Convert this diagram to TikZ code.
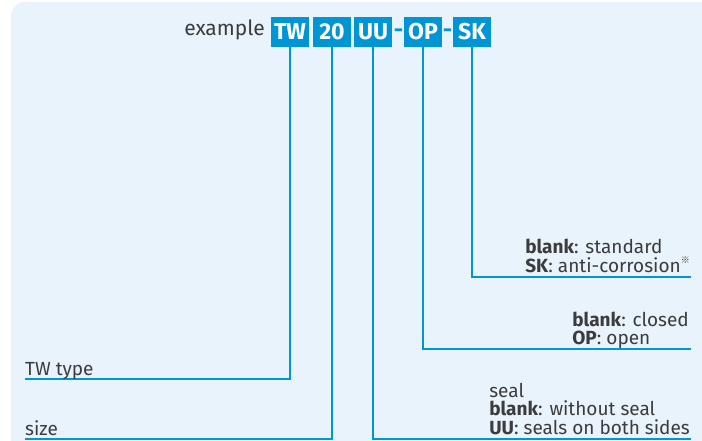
\documentclass[tikz,border=0pt]{standalone}
\usepackage{fontspec}
\setmainfont{Fira Sans}
\newfontfamily\cjk{Noto Sans CJK JP}
\definecolor{tblue}{HTML}{0096D6}
\definecolor{panel}{HTML}{E8F3FB}
\definecolor{ink}{HTML}{3C3C3C}
\tikzstyle{code}=[fill=tblue,text=white,font=\fontsize{23}{23}\selectfont\bfseries,minimum width=38pt,minimum height=30pt,inner sep=0pt]
\tikzstyle{hyph}=[text=tblue,font=\fontsize{23}{23}\selectfont\bfseries,inner sep=0pt]
\tikzstyle{lead}=[draw=tblue,line width=1.5pt]
\tikzstyle{lbl}=[text=ink,font=\fontsize{19}{19}\selectfont,inner sep=0pt]
\begin{document}
\begin{tikzpicture}[x=1pt,y=-1pt]
    \useasboundingbox (0,0) rectangle (702,441);
    \fill[panel,rounded corners=14pt] (11,2) rectangle (720,470);

    \node[code] (tw) at (290,32) {TW};
    \node[code] (sz) at (332,32) {20};
    \node[code] (uu) at (373,32) {UU};
    \node[hyph] (h1) at (398.5,33) {-};
    \node[code] (op) at (423,32) {OP};
    \node[hyph] (h2) at (447.5,33) {-};
    \node[code] (sk) at (472,32) {SK};
    \node[lbl,anchor=base east,font=\fontsize{21}{21}\selectfont] (ex) at (265,36) {example};

    % leads from the code boxes
    \coordinate (twend) at (25,379);
    \coordinate (szend) at (25,439);
    \coordinate (uuend) at (691,439);
    \coordinate (opend) at (691,349);
    \coordinate (skend) at (691,277);
    \draw[lead] (tw.south) |- (twend);
    \draw[lead] (sz.south) |- (szend);
    \draw[lead] (uu.south) |- (uuend);
    \draw[lead] (op.south) |- (opend);
    \draw[lead] (sk.south) |- (skend);

    % labels
    \node[lbl,anchor=base west] (twlbl) at (25,375) {TW type};
    \node[lbl,anchor=base west] (szlbl) at (25,435) {size};

    \node[lbl,anchor=base east] (uulbl) at (690,434) {\textbf{UU}: seals on both sides};
    \node[lbl,anchor=base west] (uublank) at ([yshift=18.5pt]uulbl.base west) {\textbf{blank}: without seal};
    \node[lbl,anchor=base west] (seal) at ([yshift=18.5pt]uublank.base west) {seal};

    \node[lbl,anchor=base east] (opblank) at (689,326) {\textbf{blank}: closed};
    \node[lbl,anchor=base west] (oplbl) at ([yshift=-18.7pt]opblank.base west) {\textbf{OP}: open};

    \node[lbl,anchor=base east] (sklbl) at (690,272) {\textbf{SK}: anti-corrosion\raisebox{0.45em}{\cjk\fontsize{9}{9}\selectfont ※}};
    \node[lbl,anchor=base west] (skblank) at ([yshift=18.7pt]sklbl.base west) {\textbf{blank}: standard};
\end{tikzpicture}
\end{document}
